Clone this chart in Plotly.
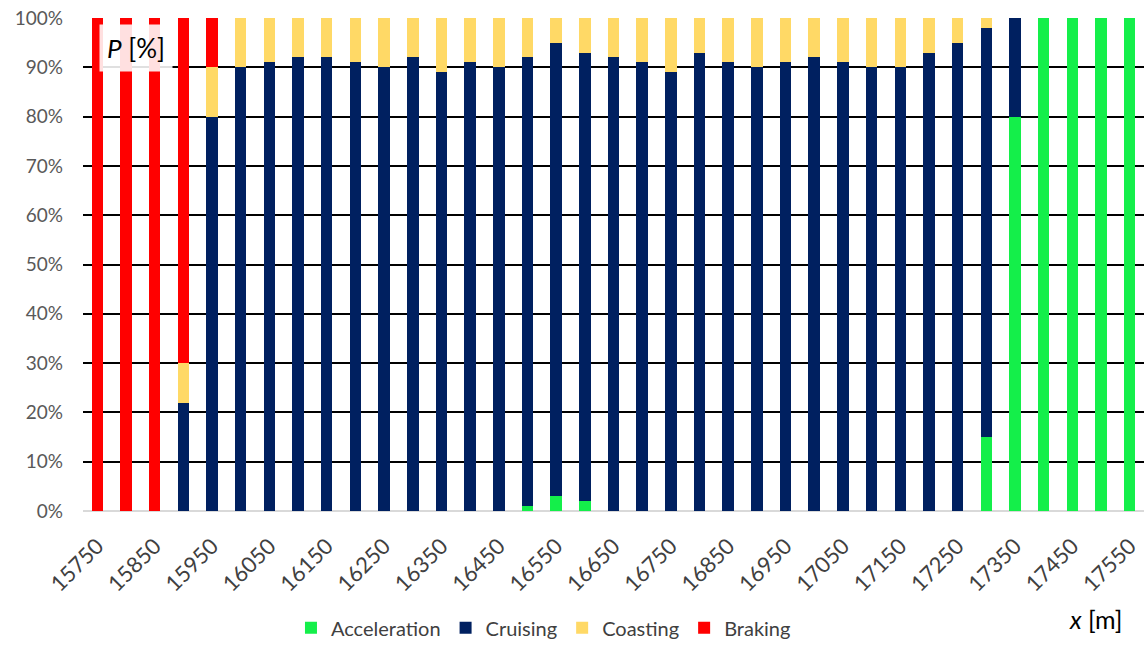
import plotly.graph_objects as go

x_pos = [15750 + 50 * i for i in range(37)]
acceleration = [0, 0, 0, 0, 0, 0, 0, 0, 0, 0, 0, 0, 0, 0, 0, 1, 3, 2, 0, 0,
                0, 0, 0, 0, 0, 0, 0, 0, 0, 0, 0, 15, 80, 100, 100, 100, 100]
cruising = [0, 0, 0, 22, 80, 90, 91, 92, 92, 91, 90, 92, 89, 91, 90, 91, 92, 91, 92, 91,
            89, 93, 91, 90, 91, 92, 91, 90, 90, 93, 95, 83, 20, 0, 0, 0, 0]
coasting = [0, 0, 0, 8, 10, 10, 9, 8, 8, 9, 10, 8, 11, 9, 10, 8, 5, 7, 8, 9,
            11, 7, 9, 10, 9, 8, 9, 10, 10, 7, 5, 2, 0, 0, 0, 0, 0]
braking = [100, 100, 100, 70, 10, 0, 0, 0, 0, 0, 0, 0, 0, 0, 0, 0, 0, 0, 0, 0,
           0, 0, 0, 0, 0, 0, 0, 0, 0, 0, 0, 0, 0, 0, 0, 0, 0]
tick_vals = [15750 + 100 * k for k in range(19)]
tick_text = [str(v) for v in tick_vals]
y_ticks = list(range(0, 101, 10))
y_text = [f"{v}%" for v in y_ticks]

series = [("Acceleration", acceleration, "#14EF4A"),
          ("Cruising", cruising, "#002060"),
          ("Coasting", coasting, "#FFD966"),
          ("Braking", braking, "#FF0000")]

fig = go.Figure()
for name, vals, col in series:
    fig.add_trace(go.Bar(x=x_pos, y=vals, name=name, marker_color=col,
                         marker_line_width=0))

font_family = "Lato, Open Sans, sans-serif"
fig.update_layout(
    barmode="stack",
    bargap=0.6,
    width=1145, height=648,
    margin=dict(l=83, r=1, t=18, b=132),
    plot_bgcolor="white", paper_bgcolor="white",
    font=dict(family=font_family, size=19, color="#595959"),
    legend=dict(orientation="h", x=0.434, y=-0.237, xanchor="center", yanchor="middle",
                font=dict(size=20, color="#404040"), traceorder="normal",
                itemwidth=30),
    xaxis=dict(range=[15725, 17575], tickvals=tick_vals, ticktext=tick_text,
               tickangle=-45, automargin=False, ticklabelstandoff=17,
               ticklabeloverflow="allow",
               showgrid=False, zeroline=False, showline=False, ticks="",
               tickfont=dict(size=22, color="#404040")),
    yaxis=dict(range=[0, 100], tickvals=y_ticks, ticktext=y_text, automargin=False,
               showgrid=True, gridcolor="black", gridwidth=1.6,
               zeroline=True, zerolinecolor="#d9d9d9", zerolinewidth=2,
               showline=False, ticks="", ticklabelstandoff=19,
               ticklabeloverflow="allow",
               tickfont=dict(size=19, color="#595959")),
    annotations=[
        dict(text="<i>x</i> [m]", xref="paper", yref="paper", x=0.954, y=-0.219,
             showarrow=False, font=dict(size=25, color="black"), xanchor="center",
             yanchor="middle"),
        dict(text="<i>P</i> [%]", xref="paper", yref="paper", x=0.05, y=0.94,
             showarrow=False, font=dict(size=26, color="black"), xanchor="center",
             yanchor="middle", bgcolor="rgba(255,255,255,0.88)", borderpad=7),
    ],
)

fig.write_html("out.html", config={"displayModeBar": False},
               post_script="document.body.style.margin='0';document.body.style.overflow='hidden';")
